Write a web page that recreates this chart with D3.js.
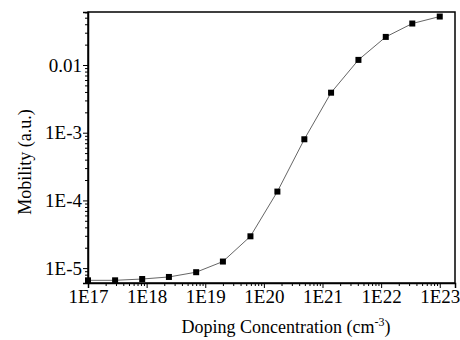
<!DOCTYPE html>
<html>
<head>
<meta charset="utf-8">
<script src="https://cdn.jsdelivr.net/npm/d3@7"></script>
<style>
  body { margin: 0; background: #fff; }
</style>
</head>
<body>
<div class="chart"></div>
<script>
// doping concentration (cm^-3)
const doping = [1e17, 2.9e17, 8.4e17, 2.4e18, 7.0e18, 2.0e19, 5.9e19,
                1.7e20, 4.9e20, 1.4e21, 4.1e21, 1.2e22, 3.4e22, 1.0e23];
const mobility = [6.6e-6, 6.6e-6, 6.9e-6, 7.4e-6, 8.7e-6, 1.25e-5, 2.95e-5,
                  1.35e-4, 8.0e-4, 3.9e-3, 0.0119, 0.026, 0.041, 0.052];
const xTicks = [1e17, 1e18, 1e19, 1e20, 1e21, 1e22, 1e23];
const xTickLabels = ['1E17', '1E18', '1E19', '1E20', '1E21', '1E22', '1E23'];
const yTicks = [1e-5, 1e-4, 1e-3, 1e-2];
const yTickLabels = ['1E-5', '1E-4', '1E-3', '0.01'];

const FONT = '"Liberation Serif", "Times New Roman", Times, serif';
const W = 460, H = 340;
const margin = { top: 12, right: 5, bottom: 57, left: 88 };
const w = W - margin.left - margin.right;
const h = H - margin.top - margin.bottom;

const svg = d3.select('.chart').append('svg')
    .attr('width', W)
    .attr('height', H);

const g = svg.append('g')
    .attr('transform', `translate(${margin.left},${margin.top})`);

const x = d3.scaleLog()
    .domain([1e17, Math.pow(10, 23.26)])
    .range([0, w]);

const y = d3.scaleLog()
    .domain([Math.pow(10, -5.22), Math.pow(10, -1.217)])
    .range([h, 0]);

// minor ticks 2..9 in every decade
function minors(scale) {
    const [a, b] = scale.domain();
    const out = [];
    for (let e = Math.floor(Math.log10(a)); e <= Math.ceil(Math.log10(b)); e++) {
        for (let m = 2; m <= 9; m++) {
            const v = m * Math.pow(10, e);
            if (v >= a && v <= b) out.push(v);
        }
    }
    return out;
}

// minor ticks
g.append('g')
    .attr('transform', `translate(0,${h})`)
    .call(d3.axisBottom(x).tickValues(minors(x)).tickSize(3).tickFormat(''))
    .call(s => s.select('.domain').remove());
g.append('g')
    .call(d3.axisLeft(y).tickValues(minors(y)).tickSize(3).tickFormat(''))
    .call(s => s.select('.domain').remove());

// major ticks + labels
g.append('g')
    .attr('transform', `translate(0,${h})`)
    .call(d3.axisBottom(x).tickValues(xTicks).tickSize(5).tickPadding(2)
        .tickFormat((d, i) => xTickLabels[i]));

g.append('g')
    .call(d3.axisLeft(y).tickValues(yTicks).tickSize(5).tickPadding(1)
        .tickFormat((d, i) => yTickLabels[i]));

svg.selectAll('g').attr('font-family', FONT);
svg.selectAll('.tick text')
    .style('font-family', FONT)
    .style('font-size', '19px')
    .attr('fill', '#000');
svg.selectAll('.domain').attr('stroke', '#000').attr('stroke-width', 1.5);
svg.selectAll('.tick line').attr('stroke', '#000').attr('stroke-width', 1);

// frame
g.append('rect')
    .attr('width', w)
    .attr('height', h)
    .attr('fill', 'none')
    .attr('stroke', '#000')
    .attr('stroke-width', 1.5);

// line + markers
const pts = doping.map((d, i) => [d, mobility[i]]);
g.append('path')
    .datum(pts)
    .attr('fill', 'none')
    .attr('stroke', '#666')
    .attr('stroke-width', 1)
    .attr('d', d3.line().x(d => x(d[0])).y(d => y(d[1])));

g.append('g')
    .selectAll('rect')
    .data(pts)
    .enter()
    .append('rect')
    .attr('x', d => x(d[0]) - 3)
    .attr('y', d => y(d[1]) - 3)
    .attr('width', 6)
    .attr('height', 6)
    .attr('fill', '#000');

// axis titles
const xt = svg.append('text')
    .attr('x', 286)
    .attr('y', 333)
    .attr('text-anchor', 'middle')
    .style('font-family', FONT)
    .style('font-size', '18px')
    .text('Doping Concentration (cm');
xt.append('tspan').attr('dy', -7).style('font-size', '12px').text('-3');
xt.append('tspan').attr('dy', 7).text(')');

svg.append('text')
    .attr('transform', 'translate(31,162) rotate(-90)')
    .attr('text-anchor', 'middle')
    .style('font-family', FONT)
    .style('font-size', '18px')
    .text('Mobility (a.u.)');
</script>
</body>
</html>
